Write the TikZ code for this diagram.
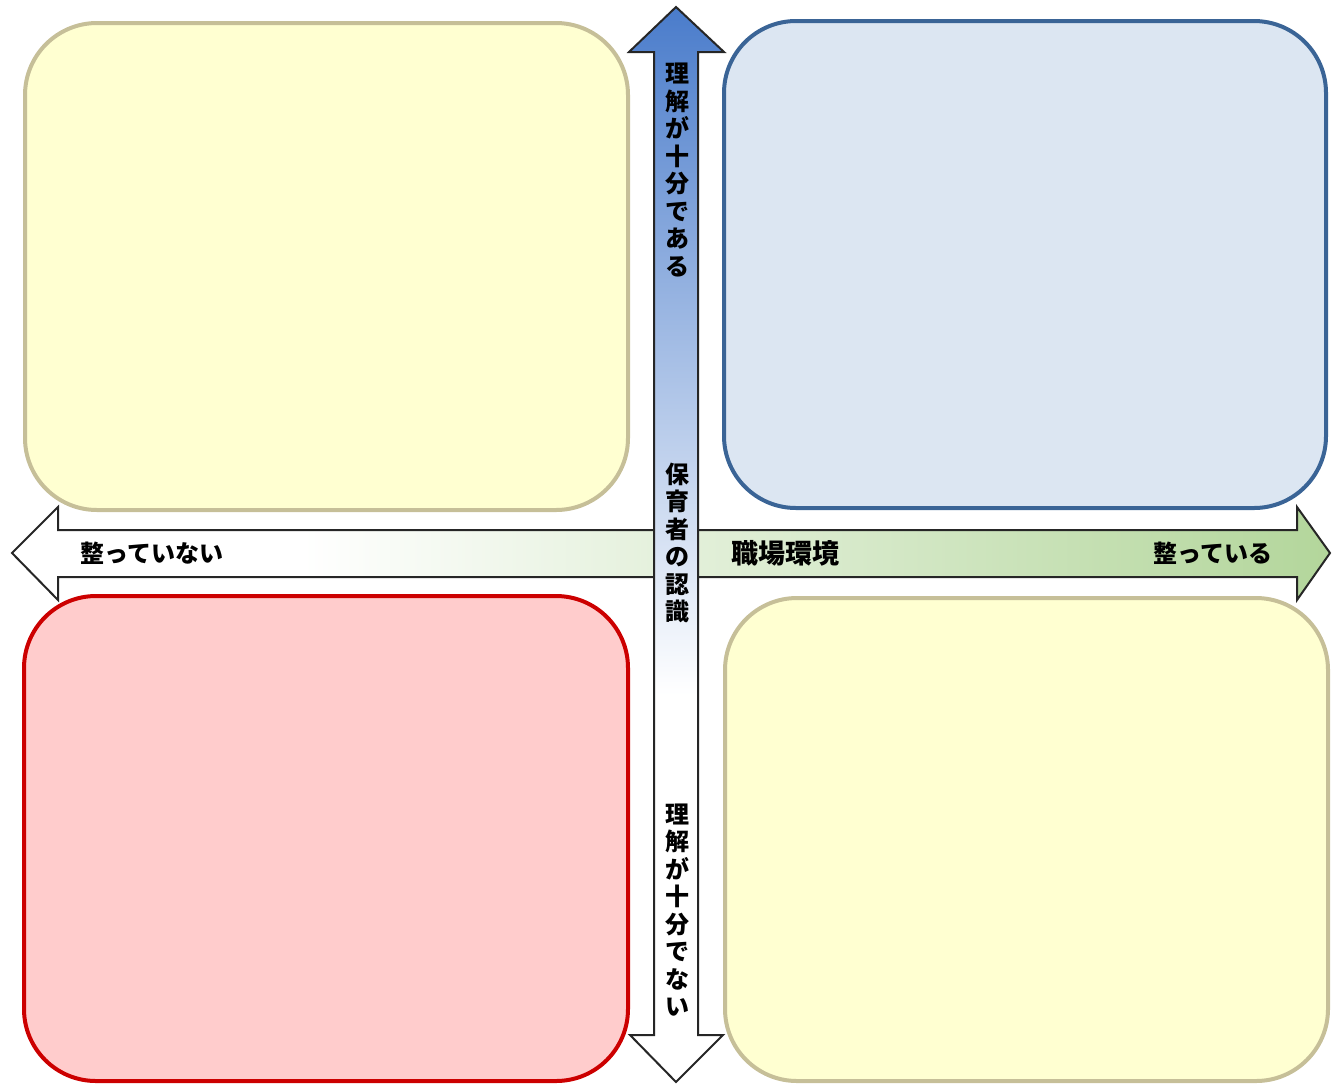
\documentclass[tikz,border=0pt]{standalone}
\usepackage{fontspec}
\newfontfamily\jp{Noto Sans CJK JP}
\definecolor{yelfill}{HTML}{FFFFD1}
\definecolor{yelline}{HTML}{C6BF98}
\definecolor{bluefill}{HTML}{DCE6F2}
\definecolor{blueline}{HTML}{3A6496}
\definecolor{redfill}{HTML}{FFCCCC}
\definecolor{redline}{HTML}{CC0000}
\definecolor{arrblue}{HTML}{4A7CCB}
\definecolor{arrgreen}{HTML}{B3D69B}
\pgfdeclareverticalshading{vshade}{100bp}{color(0bp)=(white); color(43bp)=(white); color(75bp)=(arrblue); color(100bp)=(arrblue)}
\pgfdeclarehorizontalshading{hshade}{100bp}{color(0bp)=(white); color(36bp)=(white); color(75bp)=(arrgreen); color(100bp)=(arrgreen)}
\tikzset{
  quad/.style={draw, line width=4pt, rounded corners=72pt, inner sep=0pt},
  axisarrow/.style={draw=black!85, line width=2pt, line join=miter},
  lbl/.style={font=\jp\bfseries\fontsize{24}{27.5}\selectfont, inner sep=0pt, text=black},
  vlbl/.style={lbl, align=center},
}
\begin{document}
\begin{tikzpicture}[x=1pt,y=-1pt]
\useasboundingbox (0,0) rectangle (1332,1085);
% quadrants
\node[quad, fill=yelfill, draw=yelline, minimum width=603pt, minimum height=487pt] (tl) at (326.5,266.5) {};
\node[quad, fill=bluefill, draw=blueline, minimum width=602pt, minimum height=487pt] (tr) at (1025,264.5) {};
\node[quad, fill=redfill, draw=redline, minimum width=604pt, minimum height=485pt] (bl) at (326,838.5) {};
\node[quad, fill=yelfill, draw=yelline, minimum width=603pt, minimum height=483pt] (br) at (1026.5,839.5) {};
% horizontal axis arrow
\path[axisarrow, shade, shading=hshade]
  (12,553) -- (58,507) -- (58,530) -- (1297,530) -- (1297,507) -- (1330,553)
  -- (1297,600) -- (1297,577) -- (58,577) -- (58,600) -- cycle;
% vertical axis arrow
\path[axisarrow, shade, shading=vshade]
  (676,7) -- (724,52) -- (698,52) -- (698,1035) -- (723,1035) -- (676,1082)
  -- (630,1035) -- (654,1035) -- (654,52) -- (629,52) -- cycle;
% labels
\node[vlbl] (top) at (677,170) {理\\解\\が\\十\\分\\で\\あ\\る};
\node[vlbl] (mid) at (677,543) {保\\育\\者\\の\\認\\識};
\node[vlbl] (bot) at (677,910) {理\\解\\が\\十\\分\\で\\な\\い};
\node[lbl] (left) at (152,553) {整っていない};
\node[lbl, font=\jp\bfseries\fontsize{27}{30}\selectfont] (env) at (785,553) {職場環境};
\node[lbl] (right) at (1213,553) {整っている};
\end{tikzpicture}
\end{document}
